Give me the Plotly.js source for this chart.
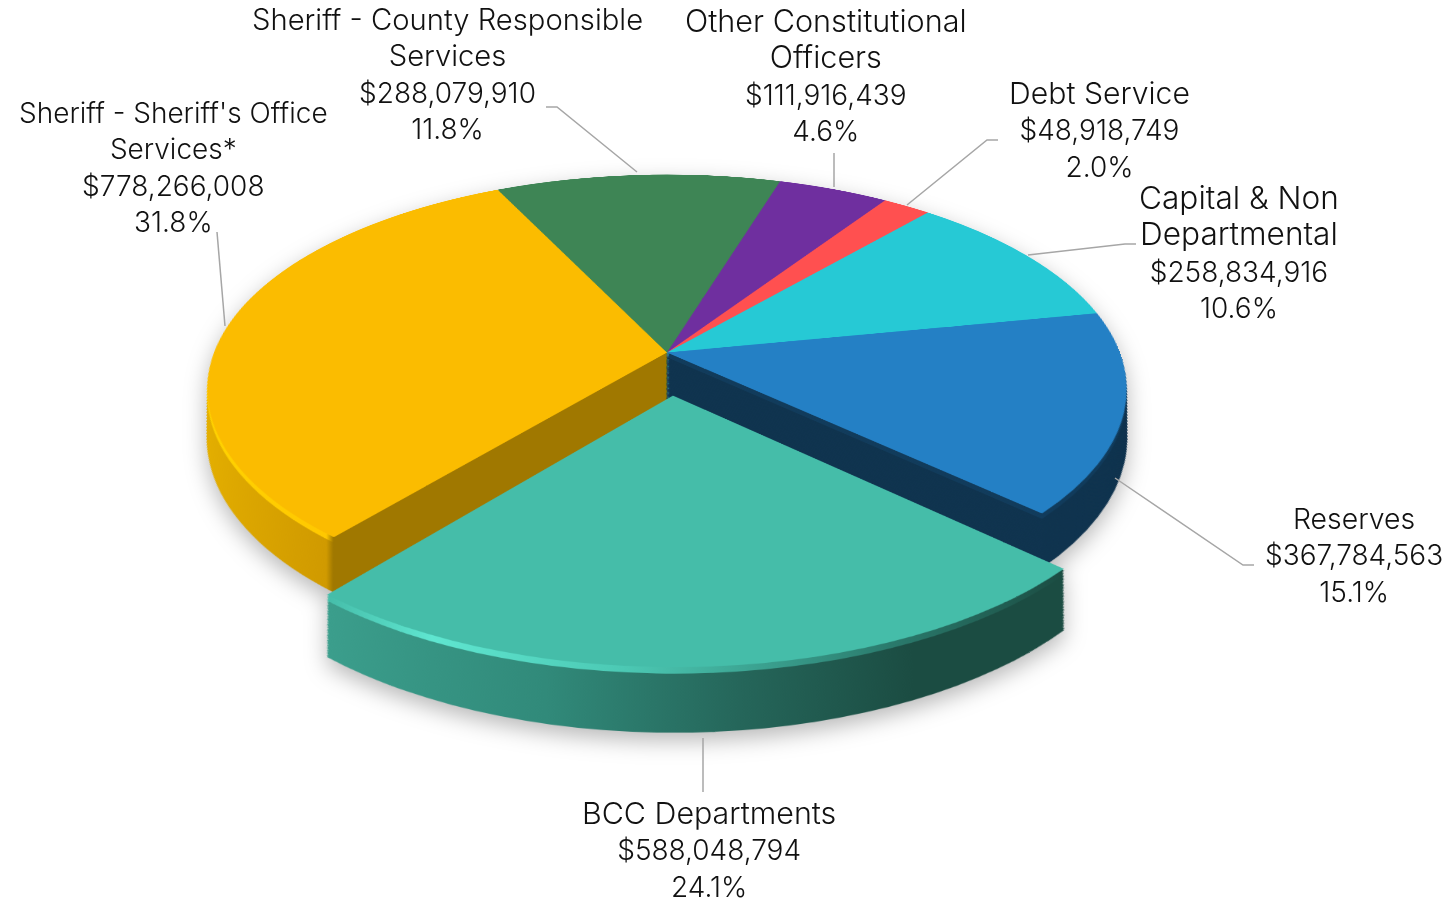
<!DOCTYPE html>
<html>
<head>
<meta charset="utf-8">
<script src="https://cdn.plot.ly/plotly-3.0.1.min.js"></script>
<style>
html,body{margin:0;padding:0;background:#fff;width:1453px;height:903px;overflow:hidden}
#stage{position:absolute;left:0;top:0;width:1453px;height:903px;overflow:hidden;filter:drop-shadow(0 8px 11px rgba(0,0,0,.28))}
#pie{position:absolute;width:1200px;height:1300px;left:67px;top:-214.5px;transform-origin:600px 566.5px;transform:perspective(2350px) rotateX(62.6deg)}
#labels{position:absolute;left:0;top:0;width:1453px;height:903px}
</style>
</head>
<body>
<div id="stage"><div id="pie"></div></div>
<div id="labels"></div>
<script>
// Data
const categories = ["BCC Departments","Sheriff - Sheriff's Office Services*","Sheriff - County Responsible Services","Other Constitutional Officers","Debt Service","Capital & Non Departmental","Reserves"];
const amounts = [588048794,778266008,288079910,111916439,48918749,258834916,367784563];
const amountLabels = ["$588,048,794","$778,266,008","$288,079,910","$111,916,439","$48,918,749","$258,834,916","$367,784,563"];
const percentLabels = ["24.1%","31.8%","11.8%","4.6%","2.0%","10.6%","15.1%"];
const labelLines = ["BCC Departments","Sheriff - Sheriff's Office<br>Services*","Sheriff - County Responsible<br>Services","Other Constitutional<br>Officers","Debt Service","Capital & Non<br>Departmental","Reserves"];
const labelX = [709,173,447,826,1099,1239,1354];
const labelY = [793,94,0,0,73,176,499];
const nameSizes = [30.4,28,29.2,30.6,30.2,31.6,28.4];
const topColors = ["#45BDA9","#FBBC00","#3E8555","#6F2F9F","#FF5050","#26C9D5","#2480C5"];
const wallColors = ["#2a7a6c","#a07800","#2a5c3b","#4d2070","#b33838","#1a8d95","#10344F"];
const rimColors = ["#5fe6d0","#ffd500","#3E8555","#6F2F9F","#FF5050","#26C9D5","#123c5c"];
const pulls = [0.2,0,0,0,0,0,0];
const leaders = [
  [[703,738],[703,792]],
  [[225,326],[217,232]],
  [[637,172],[557,107],[546,107]],
  [[834,187],[834,153]],
  [[907,205],[987,140],[998,140]],
  [[1028,255],[1125,244],[1136,244]],
  [[1115,478],[1243,565],[1254,565]]
];

// Stacked layout of the pie slab
const W=1200,H=1300,BOX=1087,CENTER=566.5,N=40,RIM=4,SHRINK=0.00037;
const NONE='rgba(0,0,0,0)';
function layer(i,colors,depth){
  const o=depth*(1-i/(N-1));
  const box=BOX*(1-SHRINK*o);
  const cy=CENTER+o;
  return {type:'pie',values:amounts,labels:categories,sort:false,direction:'clockwise',rotation:133,
    pull:pulls,textinfo:'none',hoverinfo:'skip',showlegend:false,
    marker:{colors:colors,line:{width:0}},
    domain:{x:[(W-box)/2/W,(W+box)/2/W],y:[1-(cy+box/2)/H,1-(cy-box/2)/H]}};
}
const traces=[];
const kinds=[];
function addGroup(keep,depth){
  for(let i=0;i<N;i++){
    const src = i===N-1?topColors:(i>=N-1-RIM?rimColors:wallColors);
    const kind = i===N-1?'top':(i>=N-1-RIM?'rim':'wall');
    traces.push(layer(i,src.map((c,k)=>keep(k)?c:NONE),depth));
    kinds.push(kind);
  }
}
addGroup(k=>k!==0,100);
addGroup(k=>k===0,108);

const pieLayout={width:W,height:H,margin:{l:0,r:0,t:0,b:0},paper_bgcolor:NONE,plot_bgcolor:NONE,showlegend:false};

const annotations=categories.map((c,k)=>({
  xref:'x',yref:'y',x:labelX[k],y:labelY[k],xanchor:'center',yanchor:'top',showarrow:false,align:'center',
  text:labelLines[k].split('<br>').map(t=>'<span style="font-size:'+nameSizes[k]+'px">'+t+'</span>').join('<br>')+'<br>'+amountLabels[k]+'<br>'+percentLabels[k],
  font:{family:'Inter, sans-serif',size:28,color:'#111111',weight:300}
}));
const shapes=leaders.map(pts=>({type:'path',xref:'x',yref:'y',
  path:'M'+pts.map(p=>p[0]+' '+p[1]).join(' L'),line:{color:'#a6a6a6',width:1.5}}));

const labelLayout={width:1453,height:903,margin:{l:0,r:0,t:0,b:0},paper_bgcolor:NONE,plot_bgcolor:NONE,
  xaxis:{range:[0,1453],visible:false,fixedrange:true},
  yaxis:{range:[903,0],visible:false,fixedrange:true},
  annotations:annotations,shapes:shapes,showlegend:false};

function addGrad(defs,id,stops){
  const g=document.createElementNS('http://www.w3.org/2000/svg','linearGradient');
  g.setAttribute('id',id);g.setAttribute('x1','0');g.setAttribute('x2','1');g.setAttribute('y1','0');g.setAttribute('y2','0');
  stops.forEach(s=>{const e=document.createElementNS('http://www.w3.org/2000/svg','stop');
    e.setAttribute('offset',s[0]);e.setAttribute('stop-color',s[1]);g.appendChild(e);});
  defs.appendChild(g);
}
Plotly.newPlot('pie',traces,pieLayout,{staticPlot:true}).then(gd=>{
  const svg=gd.querySelector('.main-svg');
  let defs=svg.querySelector('defs');
  if(!defs){defs=document.createElementNS('http://www.w3.org/2000/svg','defs');svg.insertBefore(defs,svg.firstChild);}
  addGrad(defs,'bccWall',[[0,'#3b9e8c'],[0.3,'#318a7a'],[0.55,'#25665a'],[0.78,'#1b4c42'],[1,'#1b4c42']]);
  addGrad(defs,'bccRim',[[0,'#45BDA9'],[0.15,'#5fe6d0'],[0.4,'#4cc9b4'],[0.75,'#2a7a6c'],[1,'#1b4c42']]);
  addGrad(defs,'shfWall',[[0,'#e5b000'],[0.345,'#d09a00'],[0.36,'#a07800'],[1,'#a07800']]);
  addGrad(defs,'shfRim',[[0,'#ffd500'],[0.345,'#ffc800'],[0.36,'#a07800'],[1,'#a07800']]);
  gd.querySelectorAll('.pielayer .trace').forEach((t,n)=>{
    const sl=t.querySelectorAll('.slice path.surface');
    const kind=kinds[n];
    if(kind==='top') return;
    const id0=kind==='wall'?'bccWall':'bccRim', id1=kind==='wall'?'shfWall':'shfRim';
    if(n>=N && sl[0]) sl[0].style.fill='url(#'+id0+')';
    if(n<N && sl[1]) sl[1].style.fill='url(#'+id1+')';
  });
});
Plotly.newPlot('labels',[],labelLayout,{staticPlot:true});
</script>
</body>
</html>
